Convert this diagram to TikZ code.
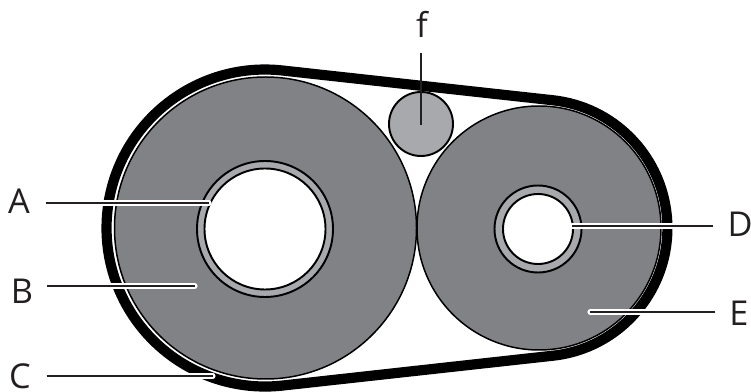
\documentclass[tikz,border=0pt]{standalone}
\usepackage{fontspec}
\setmainfont{Open Sans}
\definecolor{rollgray}{HTML}{808285}
\definecolor{ringgray}{HTML}{A7A9AC}
\definecolor{inkdark}{HTML}{231F20}
\tikzset{
  roll/.style={draw=black,line width=0.85pt,fill=rollgray},
  ring/.style={draw=black,line width=1.1pt,fill=ringgray},
  core/.style={draw=black,line width=1.1pt,fill=white},
  letter/.style={text=inkdark,font=\fontsize{19.5}{20}\selectfont,inner sep=9pt,outer sep=0pt},
  lead/.style={draw=inkdark,line width=1.3pt},
  halo/.style={preaction={draw=white,line width=2.9pt,line cap=round}}
}

\begin{document}
\begin{tikzpicture}[x=0.02cm,y=0.02cm]
  \useasboundingbox (0,0) rectangle (751,392);
  %
  \draw[black,line width=5.8pt,line join=round] (282.4,321.5) arc (83.7:276.3:158.5)
    -- (553,36.3) arc (-83.7:83.7:128.5) -- cycle;
  %
  \draw[roll] (265.5,164) circle (151);
  \draw[ring] (265,163) circle (68);
  \draw[core] (265,163) circle (60.5);
  %
  \draw[roll] (539,164) circle (122);
  \draw[ring] (538,163) circle (43.5);
  \draw[core] (538,163) circle (35);
  %
  \draw[ring] (421,268) circle (32);
  %
  \node[letter] (lblA) at (19,191) {A};
  \node[letter] (lblB) at (22,101) {B};
  \node[letter] (lblC) at (20,16) {C};
  \node[letter] (lblD) at (740,168) {D};
  \node[letter] (lblE) at (739,79) {E};
  \node[letter] (lblf) at (422,368) {f};
  %
  \coordinate (endA) at (209,189);
  \coordinate (endB) at (195,106);
  \coordinate (endC) at (213,16);
  \coordinate (endD) at (572,166);
  \coordinate (endE) at (590,80);
  \coordinate (endf) at (421,267);
  %
  \draw[lead,halo] (lblA.east |- endA) -- (endA);
  \draw[lead,halo,shorten <=-1pt] (lblB.east |- endB) -- (endB);
  \draw[lead,halo] (lblC.east |- endC) -- (endC);
  \draw[lead,halo,shorten <=-1pt] (lblD.west |- endD) -- (endD);
  \draw[lead,halo,shorten <=-1pt] (lblE.west |- endE) -- (endE);
  \draw[lead] (lblf.south -| endf) -- (endf);
  %
\end{tikzpicture}
\end{document}
